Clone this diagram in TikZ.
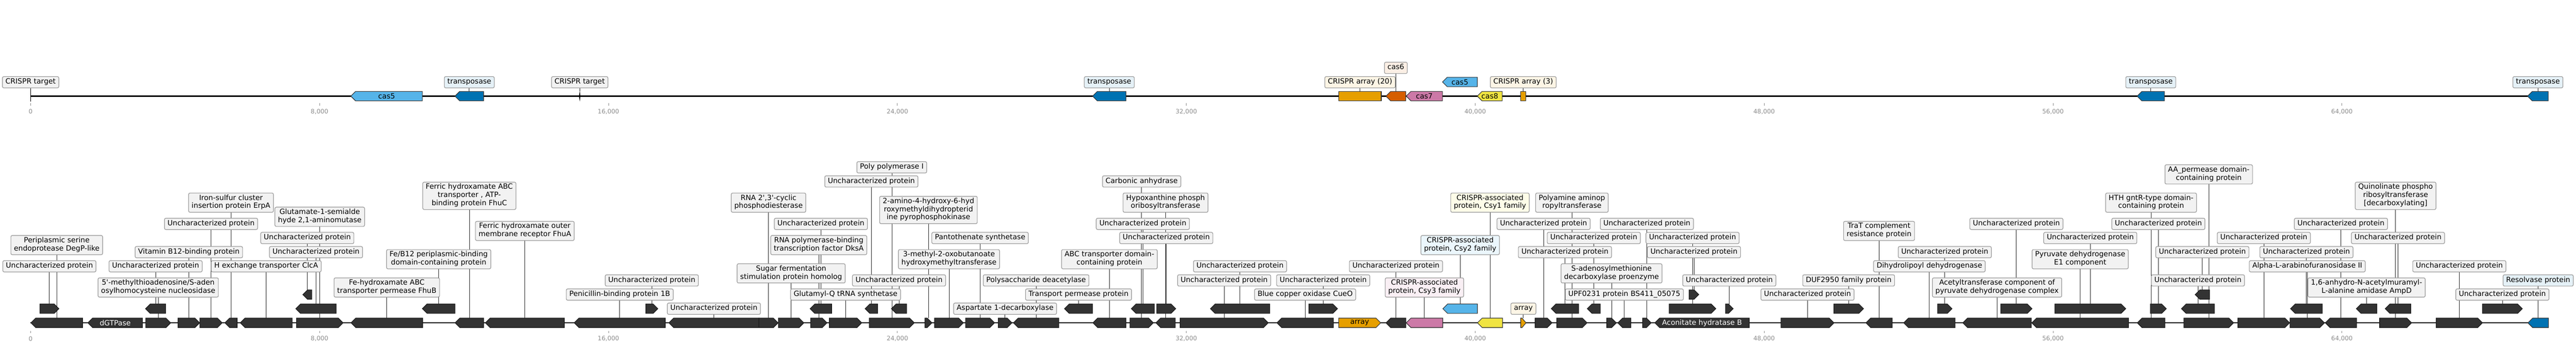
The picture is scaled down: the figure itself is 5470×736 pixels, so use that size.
\documentclass[tikz,border=0pt]{standalone}
\usepackage{fontspec}
\setmainfont{DejaVu Sans}
\pgfdeclarelayer{background}
\pgfsetlayers{background,main}
\definecolor{gdark}{HTML}{333333}
\definecolor{cblue}{HTML}{56B4E9}
\definecolor{dblue}{HTML}{0072B2}
\definecolor{corange}{HTML}{E69F00}
\definecolor{cverm}{HTML}{D55E00}
\definecolor{cpink}{HTML}{CC79A7}
\definecolor{cyellow}{HTML}{F0E442}
\definecolor{labgray}{HTML}{F2F2F2}
\definecolor{labedge}{HTML}{999999}
\definecolor{tickgray}{HTML}{8C8C8C}
\newcommand{\labfont}{\fontsize{15.3}{17.3}\selectfont}
\newcommand{\unch}{Uncharacterized protein}
\tikzset{
  labbox/.style={draw=labedge, line width=1.3pt, rounded corners=3pt, inner xsep=6.5pt, inner ysep=3.35pt,
    align=center, font=\labfont, execute at begin node=\strut, execute at end node=\strut},
  leader/.style={draw=black!85, line width=1pt},
  track/.style={draw=black, line width=2.5pt},
  gdk/.style={fill=gdark, draw=black!90, line width=1.2pt},
  gor/.style={fill=corange, draw=black!80, line width=1.2pt},
  gpk/.style={fill=cpink, draw=black!80, line width=1.2pt},
  gye/.style={fill=cyellow, draw=black!80, line width=1.2pt},
  gcb/.style={fill=cblue, draw=black!80, line width=1.2pt},
  gdb/.style={fill=dblue, draw=black!80, line width=1.2pt},
  gvm/.style={fill=cverm, draw=black!80, line width=1.2pt},
  intext/.style={font=\labfont, inner sep=0pt},
  ticklab/.style={font=\fontsize{13}{15}\selectfont, text=tickgray, inner sep=0pt},
  tickmark/.style={draw=tickgray, line width=1pt},
}
% right-pointing gene: start, end, y centre, style, name
\newcommand{\geneR}[5]{%
  \pgfmathsetmacro{\ghd}{min(10,0.75*(#2-#1))}%
  \draw[#4] ({#1},{#3-10}) -- ({#2-\ghd},{#3-10}) -- ({#2},{#3}) -- ({#2-\ghd},{#3+10}) -- ({#1},{#3+10}) -- cycle;%
  \coordinate (#5) at ({(#1+#2)/2},{#3-10});%
  \coordinate (#5c) at ({(#1+#2)/2},{#3});%
}
\newcommand{\geneL}[5]{%
  \pgfmathsetmacro{\ghd}{min(10,0.75*(#2-#1))}%
  \draw[#4] ({#2},{#3-10}) -- ({#1+\ghd},{#3-10}) -- ({#1},{#3}) -- ({#1+\ghd},{#3+10}) -- ({#2},{#3+10}) -- cycle;%
  \coordinate (#5) at ({(#1+#2)/2},{#3-10});%
  \coordinate (#5c) at ({(#1+#2)/2},{#3});%
}
\newcommand{\geneB}[5]{%
  \draw[#4] ({#1},{#3-10}) rectangle ({#2},{#3+10});%
  \coordinate (#5) at ({(#1+#2)/2},{#3-10});%
  \coordinate (#5c) at ({(#1+#2)/2},{#3});%
}
% label: [fill] target, y centre, text
\newcommand{\mylab}[4][labgray]{%
  \path (0,#3) coordinate (ty);%
  \node[labbox, fill=#1] (L#2) at (#2 |- ty) {#4};%
  \begin{pgfonlayer}{background}\draw[leader] (L#2.center) -- (#2);\end{pgfonlayer}%
}
\begin{document}
\begin{tikzpicture}[x=1pt,y=-1pt]
\useasboundingbox (0,0) rectangle (5470,736);
\begin{pgfonlayer}{background}
\fill[white] (0,0) rectangle (5470,736);
\end{pgfonlayer}

% ================= TOP TRACK =================
\draw[track] (65,204) -- (5411,204);
\foreach \k/\t in {0/0,1/{8,000},2/{16,000},3/{24,000},4/{32,000},5/{40,000},6/{48,000},7/{56,000},8/{64,000}}{
  \draw[tickmark] ({65+613.5*\k},219) -- ({65+613.5*\k},224);
  \node[ticklab] (ta\k) at ({65+613.5*\k},237) {\t};
}
\geneL{745}{897}{204}{gcb}{tc5}
\geneL{966}{1027}{204}{gdb}{tt1}
\geneL{2320}{2391}{204}{gdb}{tt2}
\geneB{2843}{2933}{204}{gor}{ta20}
\geneL{2943}{2985}{204}{gvm}{tc6}
\geneL{2986}{3063}{204}{gpk}{tc7}
\geneL{3063}{3137}{174}{gcb}{tc5b}
\geneL{3137}{3190}{204}{gye}{tc8}
\geneB{3229}{3240}{204}{gor}{ta3}
\geneL{4538}{4596}{204}{gdb}{tt3}
\geneL{5367}{5411}{204}{gdb}{tt4}
\node[intext] (itc5) at (tc5c) {cas5};
\node[intext] (itc7) at (tc7c) {cas7};
\node[intext] (itc5b) at (tc5bc) {cas5};
\node[intext] (itc8) at (tc8c) {cas8};
% CRISPR target marks
\coordinate (ct1) at (65,192);
\coordinate (ct2) at (1231,194);
\draw[line width=1.2pt] (65,188) -- (65,216);
\fill[black] (1231,193) -- (1232.6,204) -- (1231,215) -- (1229.4,204) -- cycle;
\mylab{ct1}{174.5}{CRISPR target}
\mylab{ct2}{174.5}{CRISPR target}
\mylab[dblue!10!white]{tt1}{174.5}{transposase}
\mylab[dblue!10!white]{tt2}{174.5}{transposase}
\mylab[corange!10!white]{ta20}{174.5}{CRISPR array (20)}
\mylab[cverm!10!white]{tc6}{144}{cas6}
\mylab[corange!10!white]{ta3}{174.5}{CRISPR array (3)}
\mylab[dblue!10!white]{tt3}{174.5}{transposase}
\mylab[dblue!10!white]{tt4}{174.5}{transposase}

% ================= BOTTOM TRACK =================
\draw[track] (65,685) -- (5411,685);
\foreach \k/\t in {0/0,1/{8,000},2/{16,000},3/{24,000},4/{32,000},5/{40,000},6/{48,000},7/{56,000},8/{64,000}}{
  \draw[tickmark] ({65+613.5*\k},702) -- ({65+613.5*\k},707);
  \node[ticklab] (tb\k) at ({65+613.5*\k},719) {\t};
}
% row 0
\geneL{65.6}{175.4}{685}{gdk}{g1}
\geneL{186.6}{302.7}{685}{gdk}{g2}
\geneR{309.4}{362.5}{685}{gdk}{g3}
\geneR{378}{424}{685}{gdk}{g4}
\geneR{424.5}{471.8}{685}{gdk}{g5}
\geneL{477.6}{503.5}{685}{gdk}{g6}
\geneL{510}{620.5}{685}{gdk}{g7}
\geneR{629.5}{728.5}{685}{gdk}{g8}
\geneL{745.3}{897.3}{685}{gdk}{g9}
\geneL{966.2}{1027}{685}{gdk}{g10}
\geneL{1030.5}{1198.4}{685}{gdk}{g11}
\geneL{1219.3}{1412.6}{685}{gdk}{g12}
\geneL{1420.3}{1611.5}{685}{gdk}{g13}
\geneR{1611.5}{1652.3}{685}{gdk}{g14}
\geneR{1652.9}{1707}{685}{gdk}{g15}
\geneR{1721.2}{1756}{685}{gdk}{g16}
\geneR{1761}{1830}{685}{gdk}{g17}
\geneR{1845.7}{1941.6}{685}{gdk}{g18}
\geneR{1964}{1979}{685}{gdk}{g19}
\geneR{1984.5}{2045.7}{685}{gdk}{g20}
\geneR{2050.3}{2112}{685}{gdk}{g21}
\geneR{2119.7}{2148.8}{685}{gdk}{g22}
\geneL{2151.8}{2248.3}{685}{gdk}{g23}
\geneL{2320.6}{2391}{685}{gdk}{g24}
\geneR{2399.2}{2449.2}{685}{gdk}{g25}
\geneL{2454.3}{2495.6}{685}{gdk}{g26}
\geneR{2505.8}{2693}{685}{gdk}{g27}
\geneL{2711.4}{2831.3}{685}{gdk}{g28}
\geneR{2842.6}{2931.8}{685}{gor}{g29}
\geneL{2943}{2985.4}{685}{gdk}{g30}
\geneL{2985.9}{3063.4}{685}{gpk}{g31}
\geneL{3137.3}{3190.4}{685}{gye}{g32}
\geneR{3229.2}{3240.4}{685}{gor}{g33}
\geneR{3259.8}{3295.5}{685}{gdk}{g34}
\geneR{3305.7}{3370}{685}{gdk}{g35}
\geneR{3411.8}{3432.2}{685}{gdk}{g36}
\geneL{3435.3}{3462.9}{685}{gdk}{g37}
\geneR{3487.9}{3506.2}{685}{gdk}{g38}
\geneL{3513.9}{3714.4}{685}{gdk}{g39}
\geneR{3781.7}{3894.4}{685}{gdk}{g40}
\geneL{3962.2}{4017.9}{685}{gdk}{g41}
\geneL{4042.3}{4151.5}{685}{gdk}{g42}
\geneL{4167.9}{4313.3}{685}{gdk}{g43}
\geneL{4314.3}{4519.9}{685}{gdk}{g44}
\geneL{4538.3}{4597}{685}{gdk}{g45}
\geneR{4637.3}{4742.9}{685}{gdk}{g46}
\geneR{4752}{4862}{685}{gdk}{g47}
\geneR{4862.7}{4935.9}{685}{gdk}{g48}
\geneL{4937.6}{5004}{685}{gdk}{g49}
\geneR{5052.8}{5121}{685}{gdk}{g50}
\geneR{5173.1}{5271.3}{685}{gdk}{g51}
\geneL{5367.8}{5411.5}{685}{gdb}{g52}
% row 1
\geneR{84.8}{125}{655}{gdk}{ga}
\geneL{309}{351.8}{655}{gdk}{gb}
\geneL{628}{714}{655}{gdk}{gc}
\geneL{896.8}{966.2}{655}{gdk}{ge}
\geneR{1371.3}{1396.8}{655}{gdk}{gf}
\geneL{1720.2}{1766}{655}{gdk}{gg}
\geneL{1837}{1863.6}{655}{gdk}{gh}
\geneL{1892.7}{1925.3}{655}{gdk}{gi}
\geneL{2260.4}{2320}{655}{gdk}{gj}
\geneL{2402.2}{2451.2}{655}{gdk}{gk}
\geneR{2456.3}{2496.6}{655}{gdk}{gl}
\geneL{2570.1}{2696.1}{655}{gdk}{gm}
\geneR{2779.3}{2840}{655}{gdk}{gn}
\geneL{3063.9}{3137.3}{655}{gcb}{go}
\geneL{3294}{3352.1}{655}{gdk}{gp}
\geneL{3370.5}{3398}{655}{gdk}{gq}
\geneR{3544.5}{3643.5}{655}{gdk}{gr}
\geneR{3663.9}{3680.2}{655}{gdk}{gs}
\geneR{3893.9}{3957.1}{655}{gdk}{gu}
\geneR{4114.3}{4144.9}{655}{gdk}{gv}
\geneR{4248.5}{4314.8}{655}{gdk}{gw}
\geneR{4363.3}{4513.8}{655}{gdk}{gx}
\geneR{4566.3}{4600}{655}{gdk}{gy}
\geneL{4632.2}{4702}{655}{gdk}{gz}
\geneL{4863.8}{4931.3}{655}{gdk}{ha}
\geneL{5003.4}{5047.1}{655}{gdk}{hb}
\geneL{5064.7}{5119.2}{655}{gdk}{hc}
\geneR{5271.3}{5355.9}{655}{gdk}{hd}
% row 2
\geneL{643}{662}{625}{gdk}{gd}
\geneR{3586.8}{3607.2}{625}{gdk}{gt}
\geneL{4661.2}{4691.8}{625}{gdk}{hz}
% texts inside genes
\node[intext, text=white] (ig2) at (g2c) {dGTPase};
\node[intext] (ig29) at (g29c) {array};
\node[intext, text=white] (ig39) at (g39c) {Aconitate hydratase B};
% labels
\mylab{ga}{565}{\unch}
\mylab{g1}{520}{Periplasmic serine\\endoprotease DegP-like}
\mylab{gb}{565}{\unch}
\mylab{g4}{535}{Vitamin B12-binding protein}
\mylab{g3}{610}{5\textquotesingle-methylthioadenosine/S-aden\\osylhomocysteine nucleosidase}
\mylab{g5}{475}{\unch}
\mylab{g6}{430}{Iron-sulfur cluster\\insertion protein ErpA}
\mylab{g7}{565}{H exchange transporter ClcA}
\mylab{gd}{505}{\unch}
\mylab{gc}{535}{\unch}
\mylab{g8}{460}{Glutamate-1-semialde\\hyde 2,1-aminomutase}
\mylab{g9}{610}{Fe-hydroxamate ABC\\transporter permease FhuB}
\mylab{ge}{550}{Fe/B12 periplasmic-binding\\domain-containing protein}
\mylab{g10}{415.5}{Ferric hydroxamate ABC\\transporter , ATP-\\binding protein FhuC}
\mylab{g11}{490}{Ferric hydroxamate outer\\membrane receptor FhuA}
\mylab{g12}{625}{Penicillin-binding protein 1B}
\mylab{gf}{595}{\unch}
\mylab{g13}{655}{\unch}
\mylab{g14}{430}{RNA 2\textquotesingle,3\textquotesingle-cyclic\\phosphodiesterase}
\mylab{g15}{580}{Sugar fermentation\\stimulation protein homolog}
\mylab{gg}{475}{\unch}
\mylab{g16}{520}{RNA polymerase-binding\\transcription factor DksA}
\mylab{g17}{625}{Glutamyl-Q tRNA synthetase}
\mylab{g18}{355}{Poly polymerase I}
\mylab{gh}{385}{\unch}
\mylab{g19}{445.5}{2-amino-4-hydroxy-6-hyd\\roxymethyldihydropterid\\ine pyrophosphokinase}
\mylab{gi}{595}{\unch}
\mylab{g21}{505}{Pantothenate synthetase}
\mylab{g20}{550}{3-methyl-2-oxobutanoate\\hydroxymethyltransferase}
\mylab{g22}{655}{Aspartate 1-decarboxylase}
\mylab{g23}{595}{Polysaccharide deacetylase}
\mylab{gj}{625}{Transport permease protein}
\mylab{g24}{550}{ABC transporter domain-\\containing protein}
\mylab{g25}{385}{Carbonic anhydrase}
\mylab{g26}{430}{Hypoxanthine phosph\\oribosyltransferase}
\mylab{gk}{475}{\unch}
\mylab{gl}{505}{\unch}
\mylab{gm}{565}{\unch}
\mylab{g27}{595}{\unch}
\mylab{gn}{595}{\unch}
\mylab{g28}{625}{Blue copper oxidase CueO}
\mylab{g30}{565}{\unch}
\mylab[cpink!12!white]{g31}{610}{CRISPR-associated\\protein, Csy3 family}
\mylab[cblue!12!white]{go}{520}{CRISPR-associated\\protein, Csy2 family}
\mylab[cyellow!12!white]{g32}{430}{CRISPR-associated\\protein, Csy1 family}
\mylab[corange!10!white]{g33}{655}{array}
\mylab{g34}{475}{\unch}
\mylab{g35}{430}{Polyamine aminop\\ropyltransferase}
\mylab{gq}{505}{\unch}
\mylab{gp}{535}{\unch}
\mylab{g36}{580}{S-adenosylmethionine\\decarboxylase proenzyme}
\mylab{g37}{625}{UPF0231 protein BS411\_05075}
\mylab{g38}{475}{\unch}
\mylab{gr}{505}{\unch}
\mylab{gt}{535}{\unch}
\mylab{gs}{595}{\unch}
\mylab{g40}{625}{\unch}
\mylab{gu}{595}{DUF2950 family protein}
\mylab{g41}{490}{TraT complement\\resistance protein}
\mylab{g42}{565}{Dihydrolipoyl dehydrogenase}
\mylab{gv}{535}{\unch}
\mylab{g43}{610}{Acetyltransferase component of\\pyruvate dehydrogenase complex}
\mylab{gw}{475}{\unch}
\mylab{g44}{550}{Pyruvate dehydrogenase\\E1 component}
\mylab{gx}{505}{\unch}
\mylab{g45}{430}{HTH gntR-type domain-\\containing protein}
\mylab{gy}{475}{\unch}
\mylab{gz}{595}{\unch}
\mylab{hz}{535}{\unch}
\mylab{g46}{370}{AA\_permease domain-\\containing protein}
\mylab{g47}{505}{\unch}
\mylab{ha}{535}{\unch}
\mylab{g48}{565}{Alpha-L-arabinofuranosidase II}
\mylab{g49}{475}{\unch}
\mylab{hb}{610}{1,6-anhydro-N-acetylmuramyl-\\L-alanine amidase AmpD}
\mylab{g50}{415.5}{Quinolinate phospho\\ribosyltransferase\\{[decarboxylating]}}
\mylab{hc}{505}{\unch}
\mylab{g51}{565}{\unch}
\mylab{hd}{625}{\unch}
\mylab[dblue!10!white]{g52}{595}{Resolvase protein}
\end{tikzpicture}
\end{document}
